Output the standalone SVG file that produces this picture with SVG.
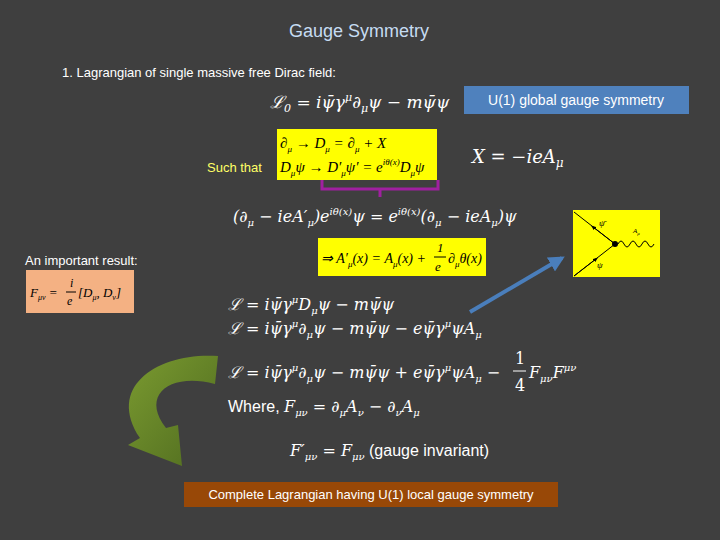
<svg xmlns="http://www.w3.org/2000/svg" width="720" height="540" viewBox="0 0 720 540">
<defs>
<style>
.s{font-family:"Liberation Sans","Open Sans",sans-serif}
.m{font-family:"DejaVu Serif","Liberation Serif",serif;font-style:italic;fill:#fff}
.t{font-family:"Liberation Serif",serif;font-style:italic;fill:#000}
</style>
<linearGradient id="g" x1="0" y1="0" x2="1" y2="1"><stop offset="0" stop-color="#7a9a30"/><stop offset="1" stop-color="#4f6b1f"/></linearGradient>
<marker id="ah" viewBox="0 0 10 10" refX="8" refY="5" markerWidth="4" markerHeight="4" orient="auto"><path d="M0,0L10,5L0,10z" fill="#4a7ebb"/></marker>
<marker id="fa" viewBox="0 0 10 10" refX="5" refY="5" markerWidth="5" markerHeight="5" orient="auto"><path d="M0,1L10,5L0,9z" fill="#000"/></marker>
</defs>
<rect width="720" height="540" fill="#3f3f3f"/>
<text x="359" y="37" text-anchor="middle" class="s" font-size="18" fill="#c6dcf2">Gauge Symmetry</text>
<text x="62" y="77" class="s" font-size="13" fill="#fff">1. Lagrangian of single massive free Dirac field:</text>
<g id="L0"><text x="270" y="108" class="m" font-size="17">ℒ<tspan font-size="11" dy="4">0</tspan><tspan dy="-4"> = 𝑖ψ̄γ</tspan><tspan font-size="11" dy="-7">μ</tspan><tspan dy="7">∂</tspan><tspan font-size="11" dy="4">μ</tspan><tspan dy="-4">ψ − 𝑚ψ̄ψ</tspan></text></g>
<g id="global"><rect x="464" y="86" width="225" height="28" fill="#4f81bd"/><text x="576" y="105" text-anchor="middle" class="s" font-size="14" fill="#fff">U(1) global gauge symmetry</text></g>
<g id="cov"><rect x="277" y="129" width="160" height="51" fill="#ffff00"/>
<text x="280" y="148" class="t" font-size="15">∂<tspan font-size="9" dy="4">μ</tspan><tspan dy="-4"> → D</tspan><tspan font-size="9" dy="4">μ</tspan><tspan dy="-4"> = ∂</tspan><tspan font-size="9" dy="4">μ</tspan><tspan dy="-4"> + X</tspan></text>
<text x="280" y="172" class="t" font-size="15">D<tspan font-size="9" dy="4">μ</tspan><tspan dy="-4">ψ → D′</tspan><tspan font-size="9" dy="4">μ</tspan><tspan dy="-4">ψ′ = e</tspan><tspan font-size="9" dy="-7">iθ(x)</tspan><tspan dy="7">D</tspan><tspan font-size="9" dy="4">μ</tspan><tspan dy="-4">ψ</tspan></text></g>
<text x="207" y="172" class="s" font-size="13" fill="#ffff66">Such that</text>
<g id="X"><text x="472" y="163" class="m" font-size="18">X = −𝑖𝑒A<tspan font-size="12" dy="4">μ</tspan></text></g>
<path d="M322,180V189H438V180M380,189V197" fill="none" stroke="#a020a0" stroke-width="3"/>
<g id="eq2"><text x="233" y="222" class="m" font-size="16">(∂<tspan font-size="10" dy="4">μ</tspan><tspan dy="-4"> − 𝑖𝑒A′</tspan><tspan font-size="10" dy="4">μ</tspan><tspan dy="-4">)𝑒</tspan><tspan font-size="10" dy="-7">𝑖θ(x)</tspan><tspan dy="7">ψ = 𝑒</tspan><tspan font-size="10" dy="-7">𝑖θ(x)</tspan><tspan dy="7">(∂</tspan><tspan font-size="10" dy="4">μ</tspan><tspan dy="-4"> − 𝑖𝑒A</tspan><tspan font-size="10" dy="4">μ</tspan><tspan dy="-4">)ψ</tspan></text></g>
<g id="result"><rect x="318" y="238" width="168" height="38" fill="#ffff00"/>
<text x="321" y="263" class="t" font-size="14">⇒ A′<tspan font-size="9" dy="4">μ</tspan><tspan dy="-4">(x) = A</tspan><tspan font-size="9" dy="4">μ</tspan><tspan dy="-4">(x) +</tspan></text>
<text x="437" y="252" class="t" font-size="13">1</text><line x1="434" y1="257" x2="446" y2="257" stroke="#000"/><text x="435" y="271" class="t" font-size="13">e</text>
<text x="448" y="263" class="t" font-size="14">∂<tspan font-size="9" dy="4">μ</tspan><tspan dy="-4">θ(x)</tspan></text></g>
<text x="25" y="265" class="s" font-size="13" fill="#fff">An important result:</text>
<g id="fmn"><rect x="26" y="270" width="108" height="43" fill="#f4b183"/>
<text x="30" y="297" class="t" font-size="13">F<tspan font-size="8" dy="3">μν</tspan><tspan dy="-3"> =</tspan></text>
<text x="70" y="287" class="t" font-size="12">i</text><line x1="66" y1="292" x2="76" y2="292" stroke="#000"/><text x="67" y="305" class="t" font-size="12">e</text>
<text x="78" y="297" class="t" font-size="13">[D<tspan font-size="8" dy="3">μ</tspan><tspan dy="-3">, D</tspan><tspan font-size="8" dy="3">ν</tspan><tspan dy="-3">]</tspan></text></g>
<g id="feyn"><rect x="573" y="210" width="87" height="67" fill="#ffff00"/>
<line x1="574" y1="212" x2="615" y2="244" stroke="#000"/><line x1="615" y1="244" x2="593" y2="227" stroke="#000" marker-end="url(#fa)"/>
<line x1="574" y1="276" x2="615" y2="244" stroke="#000"/><line x1="574" y1="276" x2="596" y2="259" stroke="#000" marker-end="url(#fa)"/>
<circle cx="615" cy="244" r="3" fill="#000"/>
<path d="M618,244q3,-6 6,0t6,0t6,0t6,0t6,0t6,0" fill="none" stroke="#000"/>
<text x="599" y="226" class="t" font-size="9">ψ̄</text><text x="597" y="268" class="t" font-size="9">ψ</text><text x="633" y="233" class="t" font-size="7">A<tspan font-size="5" dy="2">μ</tspan></text></g>
<g id="connectors"><line x1="470" y1="312" x2="562" y2="258" stroke="#4a7ebb" stroke-width="4" marker-end="url(#ah)"/>
<path d="M218,356C160,352 105,385 140,438L128,445L182,466L178,425L166,428C140,395 170,372 215,384Z" fill="url(#g)"/></g>
<g id="lag" class="m" font-size="16">
<text x="228" y="310">ℒ  = 𝑖ψ̄γ<tspan font-size="10" dy="-7">μ</tspan><tspan dy="7">D</tspan><tspan font-size="10" dy="4">μ</tspan><tspan dy="-4">ψ − 𝑚ψ̄ψ</tspan></text>
<text x="228" y="334">ℒ = 𝑖ψ̄γ<tspan font-size="10" dy="-7">μ</tspan><tspan dy="7">∂</tspan><tspan font-size="10" dy="4">μ</tspan><tspan dy="-4">ψ − 𝑚ψ̄ψ − 𝑒ψ̄γ</tspan><tspan font-size="10" dy="-7">μ</tspan><tspan dy="7">ψA</tspan><tspan font-size="10" dy="4">μ</tspan></text>
<text x="228" y="378">ℒ = 𝑖ψ̄γ<tspan font-size="10" dy="-7">μ</tspan><tspan dy="7">∂</tspan><tspan font-size="10" dy="4">μ</tspan><tspan dy="-4">ψ − 𝑚ψ̄ψ + 𝑒ψ̄γ</tspan><tspan font-size="10" dy="-7">μ</tspan><tspan dy="7">ψA</tspan><tspan font-size="10" dy="4">μ</tspan><tspan dy="-4"> −</tspan></text>
<text x="515" y="364" font-style="normal">1</text><line x1="513" y1="371" x2="526" y2="371" stroke="#fff"/><text x="515" y="391" font-style="normal">4</text>
<text x="529" y="378">F<tspan font-size="10" dy="4">μν</tspan><tspan dy="-4">F</tspan><tspan font-size="10" dy="-7">μν</tspan></text>
<text x="228" y="412"><tspan class="s" font-style="normal">Where, </tspan>F<tspan font-size="10" dy="4">μν</tspan><tspan dy="-4"> = ∂</tspan><tspan font-size="10" dy="4">μ</tspan><tspan dy="-4">A</tspan><tspan font-size="10" dy="4">ν</tspan><tspan dy="-4"> − ∂</tspan><tspan font-size="10" dy="4">ν</tspan><tspan dy="-4">A</tspan><tspan font-size="10" dy="4">μ</tspan></text>
<text x="290" y="456">F′<tspan font-size="10" dy="4">μν</tspan><tspan dy="-4"> = F</tspan><tspan font-size="10" dy="4">μν</tspan><tspan dy="-4" class="s" font-style="normal"> (gauge invariant)</tspan></text>
</g>
<g id="complete"><rect x="184" y="482" width="374" height="25" fill="#984807"/><text x="371" y="499" text-anchor="middle" class="s" font-size="13" fill="#fff">Complete Lagrangian having U(1) local gauge symmetry</text></g>
</svg>
